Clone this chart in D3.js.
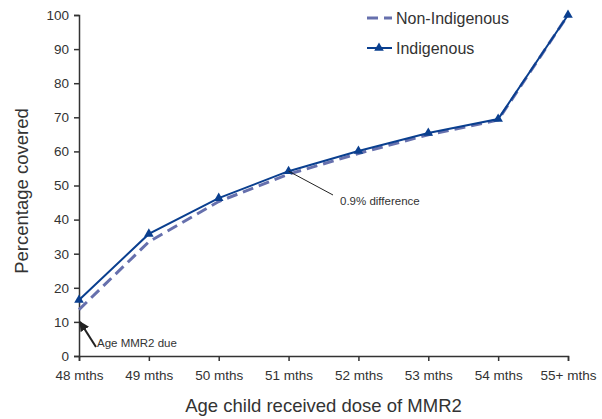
<!DOCTYPE html>
<html lang="en">
<head>
<meta charset="utf-8">
<script src="https://d3js.org/d3.v7.min.js"></script>
<style>
  body { margin: 0; background: #fff; }
  text { font-family: "Liberation Sans", Arial, sans-serif; fill: #333; }
</style>
</head>
<body>
<div id="chart"></div>
<script>
// data
const ages = ["48 mths", "49 mths", "50 mths", "51 mths", "52 mths", "53 mths", "54 mths", "55+ mths"];
const indigenous = [16.4, 35.8, 46.3, 54.2, 60.1, 65.4, 69.5, 100];
const nonIndigenous = [13.6, 33.5, 45.3, 53.3, 59.4, 64.9, 69.2, 100];
const yTicks = [0, 10, 20, 30, 40, 50, 60, 70, 80, 90, 100];

const width = 602, height = 419;
const margin = { top: 15, right: 34, bottom: 63, left: 79 };

const svg = d3.select("#chart").append("svg")
  .attr("width", width)
  .attr("height", height);

const x = d3.scalePoint()
  .domain(ages)
  .range([margin.left, width - margin.right]);

const y = d3.scaleLinear()
  .domain([0, 100])
  .range([height - margin.bottom, margin.top]);

// axes
const xAxis = svg.append("g")
  .attr("transform", `translate(0,${height - margin.bottom})`)
  .call(d3.axisBottom(x).tickSize(5).tickPadding(9));
const yAxis = svg.append("g")
  .attr("transform", `translate(${margin.left},0)`)
  .call(d3.axisLeft(y).tickValues(yTicks).tickSize(5).tickPadding(5));

[xAxis, yAxis].forEach(g => {
  g.selectAll("path, line").attr("stroke", "#333").attr("stroke-width", 1.5);
  g.selectAll("text").style("font-size", "13.5px").attr("fill", "#333");
});

// axis titles
svg.append("text")
  .attr("x", (margin.left + width - margin.right) / 2)
  .attr("y", 412)
  .attr("text-anchor", "middle")
  .style("font-size", "18.5px")
  .text("Age child received dose of MMR2");

svg.append("text")
  .attr("transform", "translate(28,191) rotate(-90)")
  .attr("text-anchor", "middle")
  .style("font-size", "18.5px")
  .text("Percentage covered");

// lines
const line = d3.line()
  .x((d, i) => x(ages[i]))
  .y(d => y(d));

svg.append("path")
  .datum(nonIndigenous)
  .attr("fill", "none")
  .attr("stroke", "#6670ad")
  .attr("stroke-width", 3)
  .attr("stroke-dasharray", "11,6")
  .attr("d", line);

svg.append("path")
  .datum(indigenous)
  .attr("fill", "none")
  .attr("stroke", "#0a3f8f")
  .attr("stroke-width", 2)
  .attr("d", line);

const tri = d3.symbol().type(d3.symbolTriangle).size(40);
svg.append("g")
  .selectAll("path")
  .data(indigenous)
  .join("path")
  .attr("transform", (d, i) => `translate(${x(ages[i])},${y(d)})`)
  .attr("d", tri)
  .attr("fill", "#0a3f8f");

// legend
const legend = svg.append("g");
legend.append("line")
  .attr("x1", 367).attr("x2", 392).attr("y1", 18).attr("y2", 18)
  .attr("stroke", "#6670ad").attr("stroke-width", 3)
  .attr("stroke-dasharray", "11,6");
legend.append("text")
  .attr("x", 396).attr("y", 24)
  .style("font-size", "16px")
  .text("Non-Indigenous");
legend.append("line")
  .attr("x1", 367).attr("x2", 392).attr("y1", 48).attr("y2", 48)
  .attr("stroke", "#0a3f8f").attr("stroke-width", 2);
legend.append("path")
  .attr("transform", "translate(379,48)")
  .attr("d", tri)
  .attr("fill", "#0a3f8f");
legend.append("text")
  .attr("x", 396).attr("y", 54)
  .style("font-size", "16px")
  .text("Indigenous");

// annotations
svg.append("defs").append("marker")
  .attr("id", "arrow")
  .attr("viewBox", "0 0 10 10")
  .attr("refX", 9).attr("refY", 5)
  .attr("markerWidth", 5).attr("markerHeight", 5)
  .attr("orient", "auto")
  .append("path")
  .attr("d", "M0,0L10,5L0,10z")
  .attr("fill", "#222");

svg.append("line")
  .attr("x1", x(ages[3])).attr("y1", y(indigenous[3]))
  .attr("x2", 333).attr("y2", 195)
  .attr("stroke", "#222").attr("stroke-width", 1);
svg.append("text")
  .attr("x", 340).attr("y", 205)
  .style("font-size", "11.5px")
  .text("0.9% difference");

svg.append("line")
  .attr("x1", 96).attr("y1", 347)
  .attr("x2", x(ages[0]) + 1).attr("y2", y(10))
  .attr("stroke", "#222").attr("stroke-width", 2)
  .attr("marker-end", "url(#arrow)");
svg.append("text")
  .attr("x", 97).attr("y", 347)
  .style("font-size", "11.5px")
  .text("Age MMR2 due");
</script>
</body>
</html>
